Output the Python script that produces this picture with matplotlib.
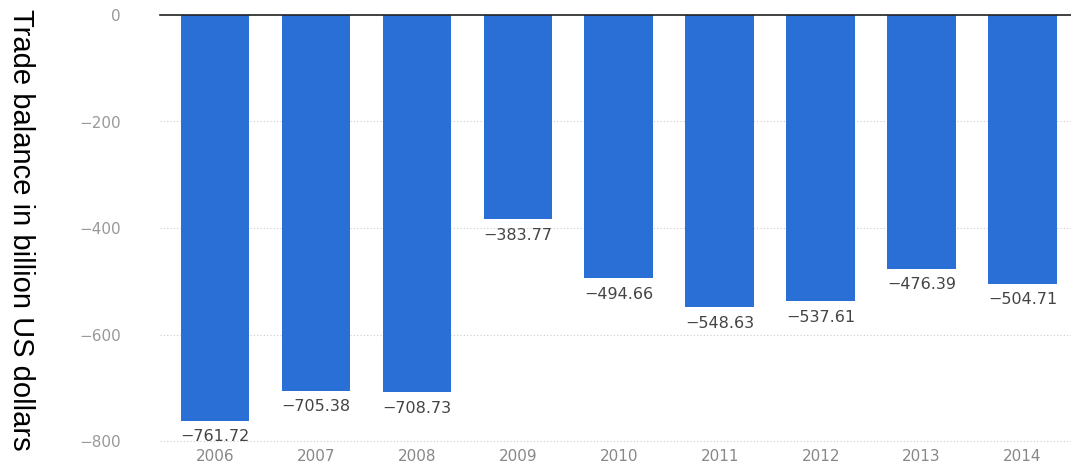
import numpy as np
import matplotlib

matplotlib.use('Agg')
import matplotlib.pyplot as plt

# trade balance data
years = ['2006', '2007', '2008', '2009', '2010', '2011', '2012', '2013', '2014']
balance = [-761.72, -705.38, -708.73, -383.77, -494.66, -548.63, -537.61, -476.39, -504.71]
yticks = [0, -200, -400, -600, -800]

plt.rcParams['font.family'] = 'DejaVu Sans'


def fmt(v, dec):
    s = '%.*f' % (dec, abs(v))
    return '\u2212' + s if v < 0 else s


W, H = 1071, 469
ybot = -812
px_per = 426 / 800.
fig = plt.figure(figsize=(W / 100, H / 100), dpi=100)
ax = fig.add_axes([160 / W, 1 - (15 - ybot * px_per) / H, 1 - 160 / W, (-ybot * px_per) / H])

x = np.arange(len(years))
ax.bar(x, balance, width=0.68, color='#2a6fd6', zorder=3)

for xi, v in zip(x, balance):
    ax.annotate(fmt(v, 2), (xi, v), xytext=(0, -11.5), textcoords='offset points',
                ha='center', va='center', fontsize=11.5, color='#444444', zorder=4)

ax.set_xlim(-0.545, 8.48)
ax.set_ylim(ybot, 0)
ax.set_xticks(x)
ax.set_xticklabels(years, fontsize=11, color='#888888')
ax.set_yticks(yticks)
ax.set_yticklabels([fmt(t, 0) for t in yticks], fontsize=11, color='#999999')
ax.tick_params(axis='both', length=0)
ax.tick_params(axis='y', pad=28)
ax.tick_params(axis='x', pad=1)

ax.grid(axis='y', color='#cccccc', linestyle=(0, (1, 2)), linewidth=0.8, zorder=0)
for s in ['left', 'right', 'bottom']:
    ax.spines[s].set_visible(False)
ax.spines['top'].set_color('#222222')
ax.spines['top'].set_linewidth(1.2)
ax.spines['top'].set_zorder(5)

fig.text(21 / W, 1 - 230 / H, 'Trade balance in billion US dollars', rotation=-90,
         ha='center', va='center', fontsize=21, family='Liberation Sans', color='black')

plt.savefig('out.png', dpi=100)
